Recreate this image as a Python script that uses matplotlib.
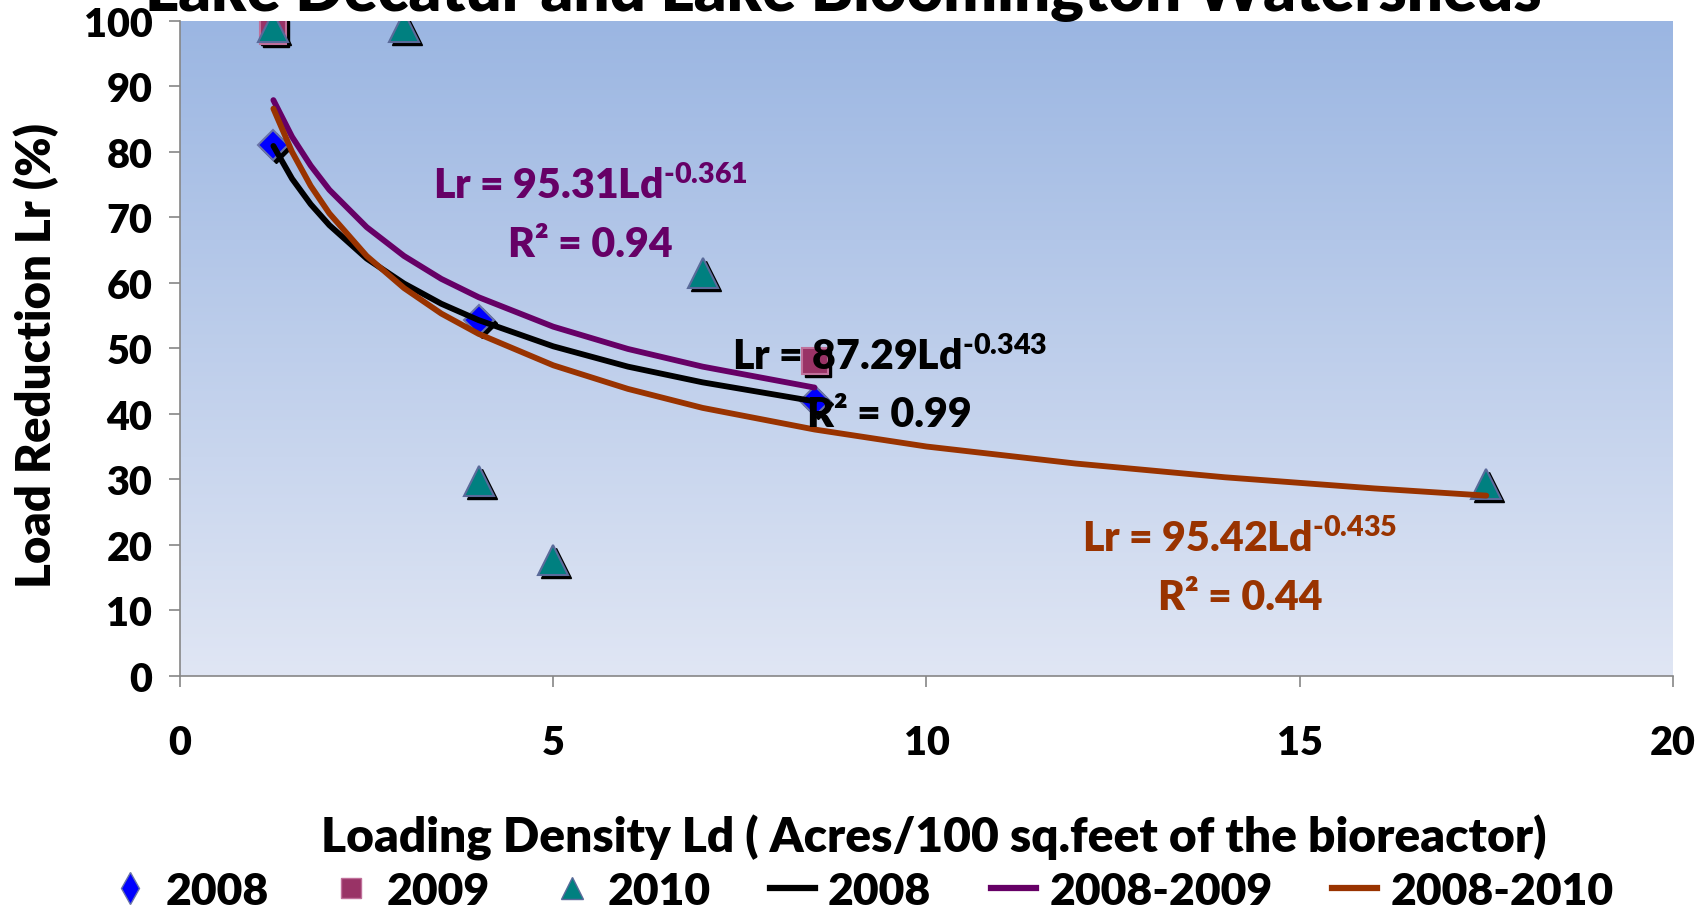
import numpy as np
import matplotlib
matplotlib.use("Agg")
import matplotlib.pyplot as plt
from matplotlib.transforms import offset_copy
from matplotlib.lines import Line2D

plt.rcParams['font.family'] = ['Lato', 'DejaVu Sans']
plt.rcParams['font.weight'] = 'heavy'
plt.rcParams['mathtext.fontset'] = 'custom'
plt.rcParams['mathtext.rm'] = 'Lato:heavy'
plt.rcParams['mathtext.bf'] = 'Lato:heavy'
plt.rcParams['mathtext.it'] = 'Lato:heavy'
W = 'heavy'

# observed points
x08 = [1.25, 4.0, 8.5]
y08 = [81, 54.3, 42]
x09 = [1.25, 8.5]
y09 = [98.5, 48]
x10 = [1.25, 3.0, 4.0, 5.0, 7.0, 17.5]
y10 = [99, 99, 29.7, 17.6, 61.5, 29.2]

# trend lines
tx = [1.25, 1.5, 1.75, 2, 2.5, 3, 3.5, 4, 5, 6, 7, 8.5]
t08 = [80.9, 75.9, 72.0, 68.8, 63.7, 59.9, 56.8, 54.3, 50.3, 47.2, 44.8, 41.9]
t0809 = [87.9, 82.3, 77.9, 74.2, 68.5, 64.1, 60.6, 57.8, 53.3, 49.9, 47.2, 44.0]
tx10 = [1.25, 1.5, 1.75, 2, 2.5, 3, 3.5, 4, 5, 6, 7, 8.5, 10, 12, 14, 16, 17.5]
t0810 = [86.6, 80.0, 74.8, 70.6, 64.1, 59.2, 55.3, 52.2, 47.4, 43.8, 40.9, 37.6,
         35.0, 32.4, 30.3, 28.6, 27.5]

BLUE, PLUM, TEAL = "#0000ff", "#993366", "#008080"
BLK, PUR, ORG = "#000000", "#660066", "#993300"

fig = plt.figure(figsize=(17.07, 9.12), dpi=100)
ax = fig.add_axes([0.1055, 0.258, 0.8745, 0.718])
ax.set_xlim(0, 20); ax.set_ylim(0, 100)

# gradient background
grad = np.linspace(0, 1, 256).reshape(-1, 1)
top = np.array([155, 182, 226]) / 255
bot = np.array([224, 230, 244]) / 255
img = top + (bot - top) * grad[:, :, None] * np.ones((1, 2, 1))
ax.imshow(img, extent=[0, 1, 0, 1], transform=ax.transAxes, aspect='auto', zorder=0)

shadow = offset_copy(ax.transData, fig=fig, x=3, y=-3, units='dots')
for xs, ys, m, ms in [(x08, y08, 'D', 15), (x09, y09, 's', 19), (x10, y10, '^', 21)]:
    ax.plot(xs, ys, ls='none', marker=m, ms=ms, color='black', transform=shadow, zorder=2)
ax.plot(x08, y08, ls='none', marker='D', ms=15, mfc=BLUE, mec="#6a74a8", mew=1.5, zorder=3)
ax.plot(x09, y09, ls='none', marker='s', ms=19, mfc=PLUM, mec="#c0709a", mew=1.5, zorder=3)
ax.plot(x10, y10, ls='none', marker='^', ms=21, mfc=TEAL, mec="#5a6a9a", mew=1.5, zorder=3)

lw = 4.2
ax.plot(tx, t08, color=BLK, lw=lw, zorder=4, solid_capstyle='round')
ax.plot(tx, t0809, color=PUR, lw=lw, zorder=4, solid_capstyle='round')
ax.plot(tx10, t0810, color=ORG, lw=lw, zorder=4, solid_capstyle='round')

fs = 29.5
ax.text(5.5, 75, r"Lr = 95.31Ld$^{\text{-0.361}}$", color=PUR, fontsize=fs, ha='center', va='center', zorder=5)
ax.text(5.5, 66, "R² = 0.94", color=PUR, fontsize=fs, ha='center', va='center', zorder=5)
ax.text(9.5, 48.8, r"Lr = 87.29Ld$^{\text{-0.343}}$", color=BLK, fontsize=fs, ha='center', va='center', zorder=5)
ax.text(9.5, 40, "R² = 0.99", color=BLK, fontsize=fs, ha='center', va='center', zorder=5)
ax.text(14.2, 21, r"Lr = 95.42Ld$^{\text{-0.435}}$", color=ORG, fontsize=fs, ha='center', va='center', zorder=5)
ax.text(14.2, 12, "R² = 0.44", color=ORG, fontsize=fs, ha='center', va='center', zorder=5)

for s in ['top', 'right']:
    ax.spines[s].set_visible(False)
for s in ['left', 'bottom']:
    ax.spines[s].set_color("#868686")
    ax.spines[s].set_linewidth(1.2)
ax.set_xticks([0, 5, 10, 15, 20])
ax.set_yticks(range(0, 101, 10))
ax.tick_params(axis='both', colors="#868686", length=8, width=1.2, labelcolor='black', labelsize=28.5)
ax.tick_params(axis='x', pad=27)
ax.tick_params(axis='y', pad=12)
for t in ax.get_xticklabels() + ax.get_yticklabels():
    t.set_fontweight(W)

fig.text(0.021, 1 - 356 / 912, "Load Reduction Lr (%)", rotation=90,
         fontsize=34, fontweight=W, ha='center', va='center')
fig.text(0.494, 1 - 11 / 912, "Lake Decatur and Lake Bloomington Watersheds",
         fontsize=45.5, fontweight=W, ha='center', va='baseline')
fig.text(0.547, 1 - 838 / 912, "Loading Density Ld ( Acres/100 sq.feet of the bioreactor)",
         fontsize=34.5, fontweight=W, ha='center', va='center')

handles = [
    Line2D([], [], ls='none', marker='d', ms=16, mfc=BLUE, mec="#6a74a8"),
    Line2D([], [], ls='none', marker='s', ms=14, mfc=PLUM, mec="#c0709a"),
    Line2D([], [], ls='none', marker='^', ms=16, mfc=TEAL, mec="#5a6a9a"),
    Line2D([], [], color=BLK, lw=4.5),
    Line2D([], [], color=PUR, lw=4.5),
    Line2D([], [], color=ORG, lw=4.5),
]
labels = ["2008", "2009", "2010", "2008", "2008-2009", "2008-2010"]
fig.legend(handles, labels, loc='center', bbox_to_anchor=(0.504, 1 - 892 / 912), ncol=6,
           frameon=False, handlelength=1.0, handletextpad=0.3, columnspacing=1.35,
           borderpad=0, prop={'weight': W, 'size': 32})

fig.savefig("out.png", dpi=100)
